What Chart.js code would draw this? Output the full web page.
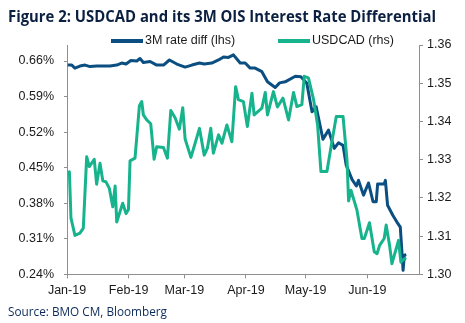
<!DOCTYPE html>
<html>
<head>
<meta charset="utf-8">
<script src="https://cdn.jsdelivr.net/npm/chart.js@4.4.1/dist/chart.umd.min.js"></script>
<style>
  html, body { margin: 0; padding: 0; background: #ffffff; }
  #wrap { position: relative; width: 465px; height: 323px; }
  canvas { position: absolute; left: 0; top: 0; }
</style>
</head>
<body>
<div id="wrap"><canvas id="chart" width="465" height="323"></canvas></div>
<script>
// Calendar days are counted from 1 Jan 2019 (day 0).
const monthStarts = [0, 31, 59, 90, 120, 151];
const monthLabels = ['Jan-19', 'Feb-19', 'Mar-19', 'Apr-19', 'May-19', 'Jun-19'];

const leftTicks = [0.24, 0.31, 0.38, 0.45, 0.52, 0.59, 0.66];
const rightTicks = [1.30, 1.31, 1.32, 1.33, 1.34, 1.35, 1.36];

// 3M OIS rate differential, in percent (left axis)
const rateDiffDays = [0.4, 2.4, 4.0, 6.5, 9.1, 11.6, 14.9, 21.6, 25.0, 27.5, 29.7, 32.1, 35.1, 36.7, 38.4,
  41.8, 45.1, 48.5, 51.5, 55.2, 59.4, 62.8, 66.6, 69.0, 72.8, 76.2, 78.7, 81.2, 83.7, 85.4,
  87.1, 89.6, 92.1, 94.6, 98.0, 100.8, 104.7, 106.9, 109.7, 114.8, 117.6, 120.6, 123.2, 125.3, 126.5,
  128.7, 131.5, 134.4, 136.5, 138.8, 140.4, 143.3, 145.5, 146.6, 149.1, 151.6, 153.9, 155.5, 156.2,
  159.5, 160.1, 161.2, 163.9, 165.9, 167.6, 169.0, 169.6, 170.6];
const rateDiff = [0.652, 0.652, 0.646, 0.650, 0.652, 0.649, 0.650, 0.650, 0.652, 0.656, 0.654, 0.661, 0.660, 0.665, 0.657,
  0.659, 0.652, 0.652, 0.662, 0.654, 0.648, 0.652, 0.656, 0.654, 0.656, 0.662, 0.668, 0.667, 0.672, 0.664,
  0.656, 0.656, 0.646, 0.646, 0.639, 0.619, 0.608, 0.617, 0.619, 0.630, 0.629, 0.616, 0.560, 0.570, 0.547,
  0.506, 0.524, 0.488, 0.499, 0.494, 0.455, 0.427, 0.414, 0.425, 0.396, 0.420, 0.383, 0.383, 0.418,
  0.418, 0.425, 0.376, 0.356, 0.343, 0.333, 0.248, 0.278, 0.279];

// USDCAD spot (right axis)
const usdcadDays = [0.4, 1.2, 2.0, 4.0, 6.5, 8.2, 9.9, 11.2, 13.7, 14.9, 16.6, 18.0, 19.6, 21.3, 23.0,
  24.2, 25.0, 28.0, 29.7, 30.9, 31.7, 34.2, 36.4, 37.6, 38.4, 40.1, 42.1, 43.8, 45.1, 48.5,
  50.5, 52.2, 54.4, 56.5, 58.2, 59.4, 62.3, 63.9, 66.6, 69.0, 70.6, 72.3, 73.6, 76.2, 77.9,
  80.4, 82.9, 84.8, 86.2, 88.7, 90.7, 93.0, 94.1, 98.0, 99.7, 100.8, 103.8, 105.8, 108.6, 111.4,
  113.9, 115.6, 118.1, 119.3, 121.4, 124.0, 126.0, 127.7, 130.7, 133.2, 135.4, 138.8, 140.8, 141.6,
  142.8, 145.8, 148.3, 149.5, 152.1, 154.5, 155.9, 157.2, 159.5, 160.5, 162.2, 163.4, 166.7, 167.9,
  169.6, 170.6];
const usdcad = [1.3266, 1.3268, 1.3147, 1.3102, 1.3108, 1.3121, 1.3308, 1.3282, 1.3301, 1.3236, 1.3291, 1.3245, 1.3242, 1.3225, 1.3177,
  1.3231, 1.3137, 1.3186, 1.3159, 1.3170, 1.3297, 1.3304, 1.3441, 1.3452, 1.3417, 1.3404, 1.3394, 1.3301, 1.3334, 1.3332,
  1.3304, 1.3429, 1.3409, 1.3380, 1.3436, 1.3354, 1.3306, 1.3334, 1.3382, 1.3312, 1.3330, 1.3382, 1.3317, 1.3365, 1.3343,
  1.3391, 1.3347, 1.3491, 1.3457, 1.3452, 1.3387, 1.3474, 1.3417, 1.3435, 1.3476, 1.3417, 1.3478, 1.3438, 1.3461, 1.3404,
  1.3476, 1.3439, 1.3444, 1.3518, 1.3514, 1.3457, 1.3391, 1.3269, 1.3269, 1.3347, 1.3413, 1.3413, 1.3299, 1.3192,
  1.3220, 1.3168, 1.3094, 1.3094, 1.3135, 1.3059, 1.3054, 1.3076, 1.3094, 1.3129, 1.3076, 1.3028, 1.3089, 1.3032,
  1.3041, 1.3039];

const titleText = 'Figure 2: USDCAD and its 3M OIS Interest Rate Differential';
const sourceText = 'Source: BMO CM, Bloomberg';
const seriesNames = ['3M rate diff (lhs)', 'USDCAD (rhs)'];

const NAVY = '#0b4f82';
const GREEN = '#17b38d';
const AXIS = '#8f8f8f';
const TICK_FONT = { family: '"Liberation Sans", Arial, sans-serif', size: 12.5 };

const toPoints = (xs, ys) => xs.map((x, i) => ({ x: x, y: ys[i] }));

// Draws the heading, the key above the plot and the source line.
const frameText = {
  id: 'frameText',
  afterDraw(chart) {
    const ctx = chart.ctx;
    ctx.save();

    // heading, fitted to its line
    ctx.fillStyle = '#0b1f40';
    ctx.textBaseline = 'alphabetic';
    ctx.font = 'bold 16px "Liberation Sans Narrow", "Open Sans", sans-serif';
    let w = ctx.measureText(titleText).width;
    ctx.save();
    ctx.translate(8, 21.7);
    ctx.scale(428 / w, 1);
    ctx.fillText(titleText, 0, 0);
    ctx.restore();

    // key
    const items = [
      { x: 111, color: NAVY, label: seriesNames[0] },
      { x: 278, color: GREEN, label: seriesNames[1] }
    ];
    ctx.font = '12.5px "Liberation Sans", Arial, sans-serif';
    ctx.textBaseline = 'middle';
    items.forEach(it => {
      ctx.strokeStyle = it.color;
      ctx.lineWidth = 4;
      ctx.lineCap = 'butt';
      ctx.beginPath();
      ctx.moveTo(it.x, 41);
      ctx.lineTo(it.x + 32, 41);
      ctx.stroke();
      ctx.fillStyle = '#1a1a1a';
      ctx.fillText(it.label, it.x + 34, 40.5);
    });

    // source line
    ctx.fillStyle = '#0b2a5a';
    ctx.textBaseline = 'alphabetic';
    ctx.font = '12px "Open Sans", sans-serif';
    w = ctx.measureText(sourceText).width;
    ctx.save();
    ctx.translate(8, 315.5);
    ctx.scale(159 / w, 1);
    ctx.fillText(sourceText, 0, 0);
    ctx.restore();

    ctx.restore();
  }
};

new Chart(document.getElementById('chart'), {
  type: 'line',
  data: {
    datasets: [
      {
        label: seriesNames[1],
        data: toPoints(usdcadDays, usdcad),
        yAxisID: 'yR',
        borderColor: GREEN,
        borderWidth: 3,
        pointRadius: 0,
        tension: 0,
        borderJoinStyle: 'round',
        order: 0
      },
      {
        label: seriesNames[0],
        data: toPoints(rateDiffDays, rateDiff),
        yAxisID: 'yL',
        borderColor: NAVY,
        borderWidth: 3,
        pointRadius: 0,
        tension: 0,
        borderJoinStyle: 'round',
        order: 1
      }
    ]
  },
  options: {
    responsive: false,
    animation: false,
    events: [],
    layout: { padding: { left: 8, top: 45, right: 0, bottom: 18 } },
    plugins: {
      legend: { display: false },
      title: { display: false },
      tooltip: { enabled: false }
    },
    scales: {
      x: {
        type: 'linear',
        min: 0,
        max: 177,
        afterBuildTicks: s => { s.ticks = monthStarts.map(v => ({ value: v })); },
        afterFit: s => { s.height = 30.6; },
        ticks: {
          autoSkip: false,
          maxRotation: 0,
          padding: 4.5,
          color: '#1a1a1a',
          font: TICK_FONT,
          callback: v => monthLabels[monthStarts.indexOf(v)]
        },
        grid: { drawOnChartArea: false, drawTicks: true, tickLength: 4, color: AXIS },
        border: { color: AXIS, width: 1 }
      },
      yL: {
        type: 'linear',
        position: 'left',
        min: 0.24,
        max: 0.6915,
        afterBuildTicks: s => { s.ticks = leftTicks.map(v => ({ value: v })); },
        afterFit: s => { s.width = 59; },
        ticks: {
          padding: 10,
          color: '#1a1a1a',
          font: TICK_FONT,
          callback: v => v.toFixed(2) + '%'
        },
        grid: { drawOnChartArea: false, drawTicks: true, tickLength: 3, color: AXIS },
        border: { color: AXIS, width: 1 }
      },
      yR: {
        type: 'linear',
        position: 'right',
        min: 1.30,
        max: 1.36,
        afterBuildTicks: s => { s.ticks = rightTicks.map(v => ({ value: v })); },
        afterFit: s => { s.width = 46; },
        ticks: {
          padding: 4,
          color: '#1a1a1a',
          font: TICK_FONT,
          callback: v => v.toFixed(2)
        },
        grid: { drawOnChartArea: false, drawTicks: true, tickLength: 4, color: AXIS },
        border: { color: AXIS, width: 1 }
      }
    }
  },
  plugins: [frameText]
});
</script>
</body>
</html>
